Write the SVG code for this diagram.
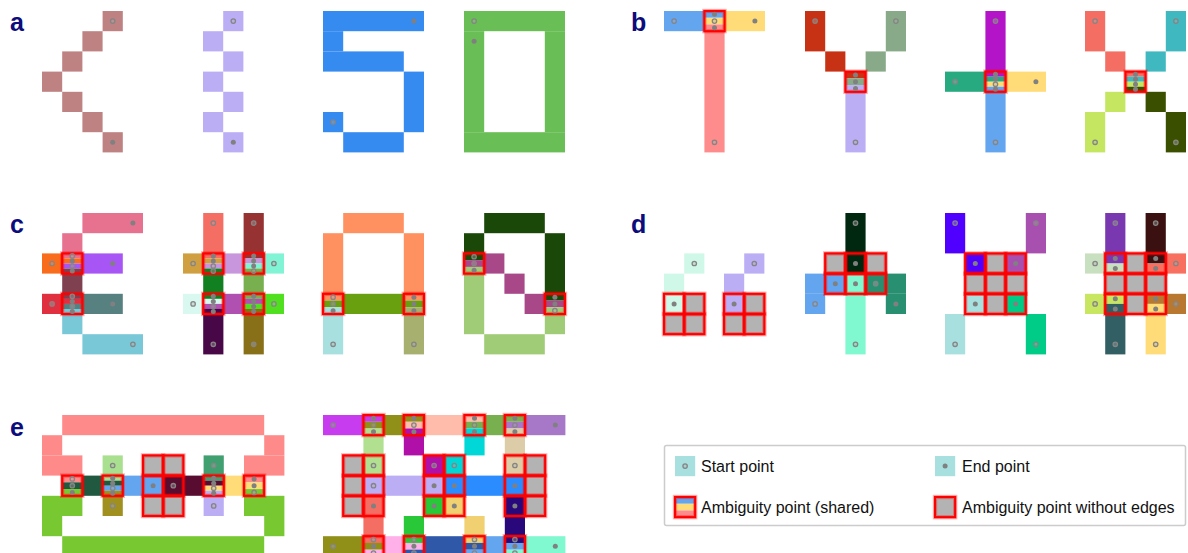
<svg xmlns="http://www.w3.org/2000/svg" xmlns:xlink="http://www.w3.org/1999/xlink" width="1188" height="553" viewBox="0 0 1188 553">
<style>
.lbl{font-family:"Liberation Sans",Arial,sans-serif;font-weight:bold;font-size:25px;fill:#0c0c7c}
.lt{font-family:"Liberation Sans",Arial,sans-serif;font-size:16px;fill:#111111}
</style>
<defs>
<circle id="h" r="2.2" fill="#b0b0b0" fill-opacity="0.35" stroke="#858585" stroke-width="1.3"/>
<circle id="f" r="2.5" fill="#808080"/>
<g id="bx"><rect width="20.2" height="20.2" fill="none" stroke="#ff0000" stroke-opacity="0.3" stroke-width="4.4"/><rect width="20.2" height="20.2" fill="none" stroke="#ff0000" stroke-width="2.2"/></g>
<rect id="g" width="20.2" height="20.2" fill="#b3b3b3"/>
</defs>
<rect width="1188" height="553" fill="#ffffff"/>

<g id="labels">
<text class="lbl" x="10" y="31">a</text>
<text class="lbl" x="631" y="31">b</text>
<text class="lbl" x="10" y="233">c</text>
<text class="lbl" x="631" y="233">d</text>
<text class="lbl" x="10" y="436">e</text>
</g>

<!-- panel a -->
<g id="a1" transform="translate(42,11)" fill="#be8282">
<rect x="60.6" y="0" width="20.2" height="20.2"/><rect x="40.4" y="20.2" width="20.2" height="20.2"/><rect x="20.2" y="40.4" width="20.2" height="20.2"/><rect x="0" y="60.6" width="20.2" height="20.2"/><rect x="20.2" y="80.8" width="20.2" height="20.2"/><rect x="40.4" y="101" width="20.2" height="20.2"/><rect x="60.6" y="121.2" width="20.2" height="20.2"/>
<use href="#h" x="70.7" y="10.1"/><use href="#f" x="70.7" y="131.3"/>
</g>
<g id="a2" transform="translate(203,11)" fill="#bcaef5">
<rect x="20.2" y="0" width="20.2" height="20.2"/><rect x="0" y="20.2" width="20.2" height="20.2"/><rect x="20.2" y="40.4" width="20.2" height="20.2"/><rect x="0" y="60.6" width="20.2" height="20.2"/><rect x="20.2" y="80.8" width="20.2" height="20.2"/><rect x="0" y="101" width="20.2" height="20.2"/><rect x="20.2" y="121.2" width="20.2" height="20.2"/>
<use href="#h" x="30.3" y="10.1"/><use href="#f" x="30.3" y="131.3"/>
</g>
<g id="a3" transform="translate(323,11)" fill="#368bf0">
<rect x="0" y="0" width="101" height="20.2"/><rect x="0" y="20.2" width="20.2" height="20.2"/><rect x="0" y="40.4" width="80.8" height="20.2"/><rect x="80.8" y="60.6" width="20.2" height="60.6"/><rect x="0" y="101" width="20.2" height="20.2"/><rect x="20.2" y="121.2" width="60.6" height="20.2"/>
<use href="#f" x="90.9" y="10.1"/><use href="#h" x="10.1" y="111.1"/>
</g>
<g id="a4" transform="translate(464,11)" fill="#69be55">
<rect x="0" y="0" width="101" height="20.2"/><rect x="0" y="121.2" width="101" height="20.2"/><rect x="0" y="20.2" width="20.2" height="101"/><rect x="80.8" y="20.2" width="20.2" height="101"/>
<use href="#h" x="10.1" y="10.1"/><use href="#f" x="10.1" y="30.3"/>
</g>

<!-- panel b -->
<g id="b1" transform="translate(664,11)">
<rect x="0" y="0" width="40.4" height="20.2" fill="#64a5f0"/><rect x="60.6" y="0" width="40.4" height="20.2" fill="#ffdc78"/><rect x="40.4" y="20.2" width="20.2" height="121.2" fill="#ff8c8c"/>
<rect x="40.4" y="0" width="20.2" height="6.8" fill="#64a5f0"/><rect x="40.4" y="6.733" width="20.2" height="6.8" fill="#ffdc78"/><rect x="40.4" y="13.467" width="20.2" height="6.733" fill="#ff8c8c"/>
<use href="#bx" x="40.4" y="0"/>
<use href="#h" x="10.1" y="10.1"/><use href="#f" x="50.5" y="3.37"/><use href="#h" x="50.5" y="10.1"/><use href="#f" x="50.5" y="16.83"/><use href="#f" x="90.9" y="10.1"/><use href="#h" x="50.5" y="131.3"/>
</g>
<g id="b2" transform="translate(805,11)">
<rect x="0" y="0" width="20.2" height="40.4" fill="#c83214"/><rect x="20.2" y="40.4" width="20.2" height="20.2" fill="#c83214"/>
<rect x="80.8" y="0" width="20.2" height="40.4" fill="#88aa88"/><rect x="60.6" y="40.4" width="20.2" height="20.2" fill="#88aa88"/>
<rect x="40.4" y="80.8" width="20.2" height="60.6" fill="#bcaef5"/>
<rect x="40.4" y="60.6" width="20.2" height="6.8" fill="#c83214"/><rect x="40.4" y="67.333" width="20.2" height="6.8" fill="#88aa88"/><rect x="40.4" y="74.067" width="20.2" height="6.8" fill="#bcaef5"/>
<use href="#bx" x="40.4" y="60.6"/>
<use href="#h" x="10.1" y="10.1"/><use href="#h" x="90.9" y="10.1"/><use href="#h" x="50.5" y="131.3"/>
<use href="#f" x="50.5" y="63.97"/><use href="#f" x="50.5" y="70.7"/><use href="#f" x="50.5" y="77.43"/>
</g>
<g id="b3" transform="translate(945,11)">
<rect x="40.4" y="0" width="20.2" height="60.6" fill="#b414c8"/><rect x="0" y="60.6" width="40.4" height="20.2" fill="#28aa80"/><rect x="60.6" y="60.6" width="40.4" height="20.2" fill="#ffdc78"/><rect x="40.4" y="80.8" width="20.2" height="60.6" fill="#64a5f0"/>
<rect x="40.4" y="60.6" width="20.2" height="5.1" fill="#b414c8"/><rect x="40.4" y="65.65" width="20.2" height="5.1" fill="#28aa80"/><rect x="40.4" y="70.7" width="20.2" height="5.1" fill="#ffdc78"/><rect x="40.4" y="75.75" width="20.2" height="5.05" fill="#64a5f0"/>
<use href="#bx" x="40.4" y="60.6"/>
<use href="#h" x="50.5" y="10.1"/><use href="#h" x="10.1" y="70.7"/><use href="#f" x="90.9" y="70.7"/><use href="#h" x="50.5" y="131.3"/>
<use href="#f" x="50.5" y="63.13"/><use href="#f" x="50.5" y="68.18"/><use href="#h" x="50.5" y="73.23"/><use href="#f" x="50.5" y="78.28"/>
</g>
<g id="b4" transform="translate(1085,11)">
<rect x="0" y="0" width="20.2" height="40.4" fill="#f46e64"/><rect x="20.2" y="40.4" width="20.2" height="20.2" fill="#f46e64"/>
<rect x="80.8" y="0" width="20.2" height="40.4" fill="#40b8c0"/><rect x="60.6" y="40.4" width="20.2" height="20.2" fill="#40b8c0"/>
<rect x="20.2" y="80.8" width="20.2" height="20.2" fill="#c4e660"/><rect x="0" y="101" width="20.2" height="40.4" fill="#c4e660"/>
<rect x="60.6" y="80.8" width="20.2" height="20.2" fill="#3a5000"/><rect x="80.8" y="101" width="20.2" height="40.4" fill="#3a5000"/>
<rect x="40.4" y="60.6" width="20.2" height="5.1" fill="#f46e64"/><rect x="40.4" y="65.65" width="20.2" height="5.1" fill="#40b8c0"/><rect x="40.4" y="70.7" width="20.2" height="5.1" fill="#c4e660"/><rect x="40.4" y="75.75" width="20.2" height="5.05" fill="#3a5000"/>
<use href="#bx" x="40.4" y="60.6"/>
<use href="#h" x="10.1" y="10.1"/><use href="#h" x="90.9" y="10.1"/><use href="#h" x="10.1" y="131.3"/><use href="#h" x="90.9" y="131.3"/>
<use href="#f" x="50.5" y="63.13"/><use href="#f" x="50.5" y="68.18"/><use href="#f" x="50.5" y="73.23"/><use href="#f" x="50.5" y="78.28"/>
</g>

<!-- panel c -->
<g id="c1" transform="translate(42,213)">
<rect x="40.4" y="0" width="60.6" height="20.2" fill="#e67290"/><rect x="20.2" y="20.2" width="20.2" height="20.2" fill="#e67290"/>
<rect x="0" y="40.4" width="20.2" height="20.2" fill="#f86c1c"/>
<rect x="40.4" y="40.4" width="40.4" height="20.2" fill="#a855f5"/>
<rect x="20.2" y="60.6" width="20.2" height="20.2" fill="#7f4050"/>
<rect x="0" y="80.8" width="20.2" height="20.2" fill="#e03040"/>
<rect x="40.4" y="80.8" width="40.4" height="20.2" fill="#578080"/>
<rect x="20.2" y="101" width="20.2" height="20.2" fill="#78c8d8"/><rect x="40.4" y="121.2" width="60.6" height="20.2" fill="#78c8d8"/>
<rect x="20.2" y="40.4" width="20.2" height="5.1" fill="#e67290"/><rect x="20.2" y="45.45" width="20.2" height="5.1" fill="#f86c1c"/><rect x="20.2" y="50.5" width="20.2" height="5.1" fill="#a855f5"/><rect x="20.2" y="55.55" width="20.2" height="5.05" fill="#7f4050"/>
<rect x="20.2" y="80.8" width="20.2" height="5.1" fill="#7f4050"/><rect x="20.2" y="85.85" width="20.2" height="5.1" fill="#e03040"/><rect x="20.2" y="90.9" width="20.2" height="5.1" fill="#578080"/><rect x="20.2" y="95.95" width="20.2" height="5.05" fill="#78c8d8"/>
<use href="#bx" x="20.2" y="40.4"/><use href="#bx" x="20.2" y="80.8"/>
<use href="#f" x="90.9" y="10.1"/><use href="#h" x="10.1" y="50.5"/><use href="#f" x="70.7" y="50.5"/><use href="#h" x="10.1" y="90.9"/><use href="#f" x="70.7" y="90.9"/><use href="#h" x="90.9" y="131.3"/>
<use href="#h" x="30.3" y="42.93"/><use href="#f" x="30.3" y="47.98"/><use href="#h" x="30.3" y="53.03"/><use href="#f" x="30.3" y="58.08"/>
<use href="#h" x="30.3" y="83.33"/><use href="#f" x="30.3" y="88.38"/><use href="#h" x="30.3" y="93.43"/><use href="#f" x="30.3" y="98.48"/>
</g>
<g id="c2" transform="translate(183,213)">
<rect x="20.2" y="0" width="20.2" height="40.4" fill="#f46e64"/>
<rect x="60.6" y="0" width="20.2" height="40.4" fill="#963232"/>
<rect x="0" y="40.4" width="20.2" height="20.2" fill="#d0a040"/>
<rect x="40.4" y="40.4" width="20.2" height="20.2" fill="#c896dc"/>
<rect x="80.8" y="40.4" width="20.2" height="20.2" fill="#80f4d4"/>
<rect x="20.2" y="60.6" width="20.2" height="20.2" fill="#108020"/>
<rect x="60.6" y="60.6" width="20.2" height="20.2" fill="#78b050"/>
<rect x="0" y="80.8" width="20.2" height="20.2" fill="#d8f8f0"/>
<rect x="40.4" y="80.8" width="20.2" height="20.2" fill="#b050b0"/>
<rect x="80.8" y="80.8" width="20.2" height="20.2" fill="#50e020"/>
<rect x="20.2" y="101" width="20.2" height="40.4" fill="#480848"/>
<rect x="60.6" y="101" width="20.2" height="40.4" fill="#887018"/>
<rect x="20.2" y="40.4" width="20.2" height="5.1" fill="#f46e64"/><rect x="20.2" y="45.45" width="20.2" height="5.1" fill="#d0a040"/><rect x="20.2" y="50.5" width="20.2" height="5.1" fill="#c896dc"/><rect x="20.2" y="55.55" width="20.2" height="5.05" fill="#108020"/>
<rect x="60.6" y="40.4" width="20.2" height="5.1" fill="#963232"/><rect x="60.6" y="45.45" width="20.2" height="5.1" fill="#c896dc"/><rect x="60.6" y="50.5" width="20.2" height="5.1" fill="#80f4d4"/><rect x="60.6" y="55.55" width="20.2" height="5.05" fill="#78b050"/>
<rect x="20.2" y="80.8" width="20.2" height="5.1" fill="#108020"/><rect x="20.2" y="85.85" width="20.2" height="5.1" fill="#d8f8f0"/><rect x="20.2" y="90.9" width="20.2" height="5.1" fill="#b050b0"/><rect x="20.2" y="95.95" width="20.2" height="5.05" fill="#480848"/>
<rect x="60.6" y="80.8" width="20.2" height="5.1" fill="#78b050"/><rect x="60.6" y="85.85" width="20.2" height="5.1" fill="#b050b0"/><rect x="60.6" y="90.9" width="20.2" height="5.1" fill="#50e020"/><rect x="60.6" y="95.95" width="20.2" height="5.05" fill="#887018"/>
<use href="#bx" x="20.2" y="40.4"/><use href="#bx" x="60.6" y="40.4"/><use href="#bx" x="20.2" y="80.8"/><use href="#bx" x="60.6" y="80.8"/>
<use href="#h" x="30.3" y="10.1"/><use href="#h" x="70.7" y="10.1"/><use href="#h" x="10.1" y="50.5"/><use href="#h" x="90.9" y="50.5"/><use href="#h" x="10.1" y="90.9"/><use href="#h" x="90.9" y="90.9"/><use href="#h" x="30.3" y="131.3"/><use href="#h" x="70.7" y="131.3"/>
<use href="#f" x="30.3" y="42.93"/><use href="#f" x="30.3" y="47.98"/><use href="#h" x="30.3" y="53.03"/><use href="#h" x="30.3" y="58.08"/>
<use href="#f" x="70.7" y="42.93"/><use href="#f" x="70.7" y="47.98"/><use href="#f" x="70.7" y="53.03"/><use href="#h" x="70.7" y="58.08"/>
<use href="#f" x="30.3" y="83.33"/><use href="#f" x="30.3" y="88.38"/><use href="#h" x="30.3" y="93.43"/><use href="#f" x="30.3" y="98.48"/>
<use href="#f" x="70.7" y="83.33"/><use href="#f" x="70.7" y="88.38"/><use href="#f" x="70.7" y="93.43"/><use href="#f" x="70.7" y="98.48"/>
</g>
<g id="c3" transform="translate(323,213)">
<rect x="20.2" y="0" width="60.6" height="20.2" fill="#ff9060"/><rect x="0" y="20.2" width="20.2" height="60.6" fill="#ff9060"/><rect x="80.8" y="20.2" width="20.2" height="60.6" fill="#ff9060"/>
<rect x="20.2" y="80.8" width="60.6" height="20.2" fill="#68a010"/>
<rect x="0" y="101" width="20.2" height="40.4" fill="#a8e0e0"/>
<rect x="80.8" y="101" width="20.2" height="40.4" fill="#a8b070"/>
<rect x="0" y="80.8" width="20.2" height="6.8" fill="#ff9060"/><rect x="0" y="87.533" width="20.2" height="6.8" fill="#68a010"/><rect x="0" y="94.267" width="20.2" height="6.733" fill="#a8e0e0"/>
<rect x="80.8" y="80.8" width="20.2" height="6.8" fill="#ff9060"/><rect x="80.8" y="87.533" width="20.2" height="6.8" fill="#68a010"/><rect x="80.8" y="94.267" width="20.2" height="6.733" fill="#a8b070"/>
<use href="#bx" x="0" y="80.8"/><use href="#bx" x="80.8" y="80.8"/>
<use href="#h" x="10.1" y="131.3"/><use href="#h" x="90.9" y="131.3"/>
<use href="#h" x="10.1" y="84.17"/><use href="#h" x="10.1" y="90.9"/><use href="#f" x="10.1" y="97.63"/>
<use href="#f" x="90.9" y="84.17"/><use href="#f" x="90.9" y="90.9"/><use href="#f" x="90.9" y="97.63"/>
</g>
<g id="c4" transform="translate(464,213)">
<rect x="20.2" y="0" width="60.6" height="20.2" fill="#1a4808"/><rect x="0" y="20.2" width="20.2" height="20.2" fill="#1a4808"/><rect x="80.8" y="20.2" width="20.2" height="60.6" fill="#1a4808"/>
<rect x="20.2" y="40.4" width="20.2" height="20.2" fill="#a84888"/><rect x="40.4" y="60.6" width="20.2" height="20.2" fill="#a84888"/><rect x="60.6" y="80.8" width="20.2" height="20.2" fill="#a84888"/>
<rect x="0" y="60.6" width="20.2" height="60.6" fill="#a0cc78"/><rect x="80.8" y="101" width="20.2" height="20.2" fill="#a0cc78"/><rect x="20.2" y="121.2" width="60.6" height="20.2" fill="#a0cc78"/>
<rect x="0" y="40.4" width="20.2" height="6.8" fill="#1a4808"/><rect x="0" y="47.133" width="20.2" height="6.8" fill="#a84888"/><rect x="0" y="53.867" width="20.2" height="6.733" fill="#a0cc78"/>
<rect x="80.8" y="80.8" width="20.2" height="6.8" fill="#1a4808"/><rect x="80.8" y="87.533" width="20.2" height="6.8" fill="#a84888"/><rect x="80.8" y="94.267" width="20.2" height="6.733" fill="#a0cc78"/>
<use href="#bx" x="0" y="40.4"/><use href="#bx" x="80.8" y="80.8"/>
<use href="#h" x="10.1" y="43.77"/><use href="#h" x="10.1" y="50.5"/><use href="#f" x="10.1" y="57.23"/>
<use href="#f" x="90.9" y="84.17"/><use href="#f" x="90.9" y="90.9"/><use href="#h" x="90.9" y="97.63"/>
</g>

<!-- panel d -->
<g id="d1" transform="translate(664,213)">
<rect x="20.2" y="40.4" width="20.2" height="20.2" fill="#d0f8e8"/><rect x="0" y="60.6" width="20.2" height="40.4" fill="#d0f8e8"/>
<use href="#g" x="20.2" y="80.8"/><use href="#g" x="0" y="101"/><use href="#g" x="20.2" y="101"/>
<use href="#bx" x="0" y="80.8"/><use href="#bx" x="20.2" y="80.8"/><use href="#bx" x="0" y="101"/><use href="#bx" x="20.2" y="101"/>
<use href="#h" x="30.3" y="50.5"/><use href="#f" x="10.1" y="90.9"/>
</g>
<g id="d2" transform="translate(724,213)">
<rect x="20.2" y="40.4" width="20.2" height="20.2" fill="#bcaef5"/><rect x="0" y="60.6" width="20.2" height="40.4" fill="#bcaef5"/>
<use href="#g" x="20.2" y="80.8"/><use href="#g" x="0" y="101"/><use href="#g" x="20.2" y="101"/>
<use href="#bx" x="0" y="80.8"/><use href="#bx" x="20.2" y="80.8"/><use href="#bx" x="0" y="101"/><use href="#bx" x="20.2" y="101"/>
<use href="#h" x="30.3" y="50.5"/><use href="#f" x="10.1" y="90.9"/>
</g>
<g id="d3" transform="translate(805,213)">
<rect x="40.4" y="0" width="20.2" height="60.6" fill="#002810"/>
<rect x="0" y="60.6" width="40.4" height="20.2" fill="#64a5f0"/><rect x="0" y="80.8" width="20.2" height="20.2" fill="#64a5f0"/>
<rect x="40.4" y="60.6" width="20.2" height="80.8" fill="#80f8d0"/>
<rect x="60.6" y="60.6" width="40.4" height="20.2" fill="#289070"/><rect x="80.8" y="80.8" width="20.2" height="20.2" fill="#289070"/>
<use href="#g" x="20.2" y="40.4"/><use href="#g" x="60.6" y="40.4"/>
<use href="#bx" x="20.2" y="40.4"/><use href="#bx" x="40.4" y="40.4"/><use href="#bx" x="60.6" y="40.4"/><use href="#bx" x="20.2" y="60.6"/><use href="#bx" x="40.4" y="60.6"/><use href="#bx" x="60.6" y="60.6"/>
<use href="#h" x="50.5" y="10.1"/><use href="#f" x="50.5" y="50.5"/><use href="#f" x="30.3" y="70.7"/><use href="#f" x="50.5" y="70.7"/><use href="#h" x="70.7" y="70.7"/><use href="#h" x="10.1" y="90.9"/><use href="#f" x="90.9" y="90.9"/><use href="#h" x="50.5" y="131.3"/>
</g>
<g id="d4" transform="translate(945,213)">
<rect x="0" y="0" width="20.2" height="40.4" fill="#5000ff"/><rect x="20.2" y="40.4" width="20.2" height="20.2" fill="#5000ff"/>
<rect x="80.8" y="0" width="20.2" height="40.4" fill="#a850b0"/><rect x="60.6" y="40.4" width="20.2" height="20.2" fill="#a850b0"/>
<use href="#g" x="40.4" y="40.4"/><use href="#g" x="20.2" y="60.6"/><use href="#g" x="40.4" y="60.6"/><use href="#g" x="60.6" y="60.6"/><use href="#g" x="40.4" y="80.8"/>
<rect x="20.2" y="80.8" width="20.2" height="20.2" fill="#a8e0e0"/><rect x="0" y="101" width="20.2" height="40.4" fill="#a8e0e0"/>
<rect x="60.6" y="80.8" width="20.2" height="20.2" fill="#00cc88"/><rect x="80.8" y="101" width="20.2" height="40.4" fill="#00cc88"/>
<use href="#bx" x="20.2" y="40.4"/><use href="#bx" x="40.4" y="40.4"/><use href="#bx" x="60.6" y="40.4"/><use href="#bx" x="20.2" y="60.6"/><use href="#bx" x="40.4" y="60.6"/><use href="#bx" x="60.6" y="60.6"/><use href="#bx" x="20.2" y="80.8"/><use href="#bx" x="40.4" y="80.8"/><use href="#bx" x="60.6" y="80.8"/>
<use href="#h" x="10.1" y="10.1"/><use href="#h" x="90.9" y="10.1"/><use href="#h" x="10.1" y="131.3"/><use href="#h" x="90.9" y="131.3"/>
<use href="#f" x="30.3" y="50.5"/><use href="#f" x="70.7" y="50.5"/><use href="#f" x="30.3" y="90.9"/><use href="#f" x="70.7" y="90.9"/>
</g>
<g id="d5" transform="translate(1085,213)">
<rect x="20.2" y="0" width="20.2" height="50.5" fill="#7a38b0"/>
<rect x="60.6" y="0" width="20.2" height="50.5" fill="#3a1010"/>
<rect x="0" y="40.4" width="20.2" height="20.2" fill="#c8e0c0"/><rect x="20.2" y="50.5" width="20.2" height="10.1" fill="#c8e0c0"/>
<rect x="80.8" y="40.4" width="20.2" height="20.2" fill="#f87060"/><rect x="60.6" y="50.5" width="20.2" height="10.1" fill="#f87060"/>
<use href="#g" x="40.4" y="40.4"/><use href="#g" x="20.2" y="60.6"/><use href="#g" x="40.4" y="60.6"/><use href="#g" x="60.6" y="60.6"/><use href="#g" x="40.4" y="80.8"/>
<rect x="0" y="80.8" width="20.2" height="20.2" fill="#c8e660"/><rect x="20.2" y="80.8" width="20.2" height="10.1" fill="#c8e660"/>
<rect x="20.2" y="90.9" width="20.2" height="50.5" fill="#325f64"/>
<rect x="80.8" y="80.8" width="20.2" height="20.2" fill="#b87830"/><rect x="60.6" y="80.8" width="20.2" height="10.1" fill="#b87830"/>
<rect x="60.6" y="90.9" width="20.2" height="50.5" fill="#ffdc78"/>
<use href="#bx" x="20.2" y="40.4"/><use href="#bx" x="40.4" y="40.4"/><use href="#bx" x="60.6" y="40.4"/><use href="#bx" x="20.2" y="60.6"/><use href="#bx" x="40.4" y="60.6"/><use href="#bx" x="60.6" y="60.6"/><use href="#bx" x="20.2" y="80.8"/><use href="#bx" x="40.4" y="80.8"/><use href="#bx" x="60.6" y="80.8"/>
<use href="#h" x="30.3" y="10.1"/><use href="#h" x="70.7" y="10.1"/><use href="#h" x="10.1" y="50.5"/><use href="#h" x="90.9" y="50.5"/><use href="#h" x="10.1" y="90.9"/><use href="#h" x="90.9" y="90.9"/><use href="#h" x="30.3" y="131.3"/><use href="#h" x="70.7" y="131.3"/>
<use href="#f" x="30.3" y="45.45"/><use href="#f" x="30.3" y="55.55"/><use href="#f" x="70.7" y="45.45"/><use href="#f" x="70.7" y="55.55"/><use href="#f" x="30.3" y="85.85"/><use href="#f" x="30.3" y="95.95"/><use href="#f" x="70.7" y="85.85"/><use href="#f" x="70.7" y="95.95"/>
</g>

<!-- panel e -->
<g id="e1" transform="translate(42,415)">
<g fill="#ff8a8a"><rect x="20.2" y="0" width="202" height="20.2"/><rect x="0" y="20.2" width="20.2" height="20.2"/><rect x="222.2" y="20.2" width="20.2" height="20.2"/><rect x="0" y="40.4" width="40.4" height="20.2"/><rect x="202" y="40.4" width="40.4" height="20.2"/></g>
<g fill="#78c832"><rect x="0" y="80.8" width="40.4" height="20.2"/><rect x="202" y="80.8" width="40.4" height="20.2"/><rect x="0" y="101" width="20.2" height="20.2"/><rect x="222.2" y="101" width="20.2" height="20.2"/><rect x="20.2" y="121.2" width="202" height="20.2"/></g>
<rect x="40.4" y="60.6" width="20.2" height="20.2" fill="#205840"/>
<rect x="60.6" y="40.4" width="20.2" height="20.2" fill="#a8e090"/>
<rect x="60.6" y="80.8" width="20.2" height="20.2" fill="#a09020"/>
<rect x="80.8" y="60.6" width="40.4" height="20.2" fill="#64a5f0"/>
<rect x="121.2" y="60.6" width="40.4" height="20.2" fill="#580c30"/>
<use href="#g" x="101" y="40.4"/><use href="#g" x="121.2" y="40.4"/><use href="#g" x="101" y="80.8"/><use href="#g" x="121.2" y="80.8"/>
<rect x="161.6" y="40.4" width="20.2" height="20.2" fill="#40a070"/>
<rect x="161.6" y="80.8" width="20.2" height="20.2" fill="#bcaef5"/>
<rect x="181.8" y="60.6" width="20.2" height="20.2" fill="#ffdc78"/>
<rect x="20.2" y="60.6" width="20.2" height="6.8" fill="#ff8a8a"/><rect x="20.2" y="67.333" width="20.2" height="6.8" fill="#205840"/><rect x="20.2" y="74.067" width="20.2" height="6.733" fill="#78c832"/>
<rect x="60.6" y="60.6" width="20.2" height="5.1" fill="#a8e090"/><rect x="60.6" y="65.65" width="20.2" height="5.1" fill="#205840"/><rect x="60.6" y="70.7" width="20.2" height="5.1" fill="#64a5f0"/><rect x="60.6" y="75.75" width="20.2" height="5.05" fill="#a09020"/>
<rect x="161.6" y="60.6" width="20.2" height="5.1" fill="#40a070"/><rect x="161.6" y="65.65" width="20.2" height="5.1" fill="#580c30"/><rect x="161.6" y="70.7" width="20.2" height="5.1" fill="#ffdc78"/><rect x="161.6" y="75.75" width="20.2" height="5.05" fill="#bcaef5"/>
<rect x="202" y="60.6" width="20.2" height="6.8" fill="#ff8a8a"/><rect x="202" y="67.333" width="20.2" height="6.8" fill="#ffdc78"/><rect x="202" y="74.067" width="20.2" height="6.733" fill="#78c832"/>
<use href="#bx" x="20.2" y="60.6"/><use href="#bx" x="60.6" y="60.6"/><use href="#bx" x="101" y="40.4"/><use href="#bx" x="121.2" y="40.4"/><use href="#bx" x="101" y="60.6"/><use href="#bx" x="121.2" y="60.6"/><use href="#bx" x="101" y="80.8"/><use href="#bx" x="121.2" y="80.8"/><use href="#bx" x="161.6" y="60.6"/><use href="#bx" x="202" y="60.6"/>
<use href="#h" x="30.3" y="63.97"/><use href="#h" x="30.3" y="70.7"/><use href="#f" x="30.3" y="77.43"/>
<use href="#f" x="70.7" y="63.13"/><use href="#f" x="70.7" y="68.18"/><use href="#h" x="70.7" y="73.23"/><use href="#f" x="70.7" y="78.28"/>
<use href="#h" x="70.7" y="50.5"/><use href="#h" x="70.7" y="90.9"/><use href="#f" x="111.1" y="70.7"/><use href="#h" x="131.3" y="70.7"/><use href="#h" x="171.7" y="50.5"/><use href="#h" x="171.7" y="90.9"/>
<use href="#f" x="171.7" y="63.13"/><use href="#f" x="171.7" y="68.18"/><use href="#h" x="171.7" y="73.23"/><use href="#f" x="171.7" y="78.28"/>
<use href="#f" x="212.1" y="63.97"/><use href="#f" x="212.1" y="70.7"/><use href="#h" x="212.1" y="77.43"/>
</g>
<g id="e2" transform="translate(323,415)">
<rect x="0" y="0" width="40.4" height="20.2" fill="#c83cf0"/>
<rect x="60.6" y="0" width="20.2" height="20.2" fill="#909018"/>
<rect x="101" y="0" width="40.4" height="20.2" fill="#ffbcaa"/>
<rect x="161.6" y="0" width="20.2" height="20.2" fill="#78b050"/>
<rect x="202" y="0" width="40.4" height="20.2" fill="#a878c8"/>
<rect x="40.4" y="0" width="20.2" height="6.8" fill="#c83cf0"/><rect x="40.4" y="6.733" width="20.2" height="6.8" fill="#909018"/><rect x="40.4" y="13.467" width="20.2" height="6.733" fill="#b0e090"/>
<rect x="80.8" y="0" width="20.2" height="6.8" fill="#909018"/><rect x="80.8" y="6.733" width="20.2" height="6.8" fill="#ffbcaa"/><rect x="80.8" y="13.467" width="20.2" height="6.733" fill="#b010a8"/>
<rect x="141.4" y="0" width="20.2" height="6.8" fill="#ffbcaa"/><rect x="141.4" y="6.733" width="20.2" height="6.8" fill="#78b050"/><rect x="141.4" y="13.467" width="20.2" height="6.733" fill="#00d8d8"/>
<rect x="181.8" y="0" width="20.2" height="6.8" fill="#78b050"/><rect x="181.8" y="6.733" width="20.2" height="6.8" fill="#a878c8"/><rect x="181.8" y="13.467" width="20.2" height="6.733" fill="#dccca8"/>
<rect x="40.4" y="20.2" width="20.2" height="40.4" fill="#b0e090"/>
<rect x="80.8" y="20.2" width="20.2" height="20.2" fill="#b010a8"/><rect x="101" y="40.4" width="20.2" height="20.2" fill="#b010a8"/>
<rect x="141.4" y="20.2" width="20.2" height="20.2" fill="#00d8d8"/><rect x="121.2" y="40.4" width="20.2" height="20.2" fill="#00d8d8"/>
<rect x="181.8" y="20.2" width="20.2" height="40.4" fill="#dccca8"/>
<use href="#g" x="20.2" y="40.4"/><use href="#g" x="202" y="40.4"/><use href="#g" x="20.2" y="60.6"/><use href="#g" x="202" y="60.6"/><use href="#g" x="20.2" y="80.8"/><use href="#g" x="202" y="80.8"/>
<rect x="40.4" y="60.6" width="80.8" height="20.2" fill="#bcaef5"/>
<rect x="121.2" y="60.6" width="80.8" height="20.2" fill="#2a8cff"/>
<rect x="40.4" y="80.8" width="20.2" height="40.4" fill="#f46e64"/>
<rect x="101" y="80.8" width="20.2" height="20.2" fill="#28c838"/><rect x="80.8" y="101" width="20.2" height="20.2" fill="#28c838"/>
<rect x="121.2" y="80.8" width="20.2" height="20.2" fill="#f0d070"/><rect x="141.4" y="101" width="20.2" height="20.2" fill="#f0d070"/>
<rect x="181.8" y="80.8" width="20.2" height="40.4" fill="#28087a"/>
<rect x="0" y="121.2" width="40.4" height="20.2" fill="#909018"/>
<rect x="60.6" y="121.2" width="20.2" height="20.2" fill="#ffb0e8"/>
<rect x="101" y="121.2" width="40.4" height="20.2" fill="#3058a8"/>
<rect x="161.6" y="121.2" width="20.2" height="20.2" fill="#64a5f0"/>
<rect x="202" y="121.2" width="40.4" height="20.2" fill="#80f8d0"/>
<rect x="40.4" y="121.2" width="20.2" height="6.8" fill="#f46e64"/><rect x="40.4" y="127.933" width="20.2" height="6.8" fill="#909018"/><rect x="40.4" y="134.667" width="20.2" height="6.733" fill="#ffb0e8"/>
<rect x="80.8" y="121.2" width="20.2" height="6.8" fill="#28c838"/><rect x="80.8" y="127.933" width="20.2" height="6.8" fill="#ffb0e8"/><rect x="80.8" y="134.667" width="20.2" height="6.733" fill="#3058a8"/>
<rect x="141.4" y="121.2" width="20.2" height="6.8" fill="#f0d070"/><rect x="141.4" y="127.933" width="20.2" height="6.8" fill="#3058a8"/><rect x="141.4" y="134.667" width="20.2" height="6.733" fill="#64a5f0"/>
<rect x="181.8" y="121.2" width="20.2" height="6.8" fill="#28087a"/><rect x="181.8" y="127.933" width="20.2" height="6.8" fill="#64a5f0"/><rect x="181.8" y="134.667" width="20.2" height="6.733" fill="#80f8d0"/>
<use href="#bx" x="40.4" y="0"/><use href="#bx" x="80.8" y="0"/><use href="#bx" x="141.4" y="0"/><use href="#bx" x="181.8" y="0"/>
<use href="#bx" x="20.2" y="40.4"/><use href="#bx" x="40.4" y="40.4"/><use href="#bx" x="101" y="40.4"/><use href="#bx" x="121.2" y="40.4"/><use href="#bx" x="181.8" y="40.4"/><use href="#bx" x="202" y="40.4"/>
<use href="#bx" x="20.2" y="60.6"/><use href="#bx" x="40.4" y="60.6"/><use href="#bx" x="101" y="60.6"/><use href="#bx" x="121.2" y="60.6"/><use href="#bx" x="181.8" y="60.6"/><use href="#bx" x="202" y="60.6"/>
<use href="#bx" x="20.2" y="80.8"/><use href="#bx" x="40.4" y="80.8"/><use href="#bx" x="101" y="80.8"/><use href="#bx" x="121.2" y="80.8"/><use href="#bx" x="181.8" y="80.8"/><use href="#bx" x="202" y="80.8"/>
<use href="#bx" x="40.4" y="121.2"/><use href="#bx" x="80.8" y="121.2"/><use href="#bx" x="141.4" y="121.2"/><use href="#bx" x="181.8" y="121.2"/>
<use href="#h" x="10.1" y="10.1"/><use href="#f" x="232.3" y="10.1"/>
<use href="#f" x="50.5" y="3.37"/><use href="#h" x="50.5" y="10.1"/><use href="#f" x="50.5" y="16.83"/>
<use href="#f" x="90.9" y="3.37"/><use href="#h" x="90.9" y="10.1"/><use href="#f" x="90.9" y="16.83"/>
<use href="#f" x="151.5" y="3.37"/><use href="#h" x="151.5" y="10.1"/><use href="#f" x="151.5" y="16.83"/>
<use href="#f" x="191.9" y="3.37"/><use href="#h" x="191.9" y="10.1"/><use href="#f" x="191.9" y="16.83"/>
<use href="#h" x="50.5" y="50.5"/><use href="#h" x="111.1" y="50.5"/><use href="#h" x="131.3" y="50.5"/><use href="#h" x="191.9" y="50.5"/>
<use href="#h" x="50.5" y="70.7"/><use href="#f" x="111.1" y="70.7"/><use href="#f" x="131.3" y="70.7"/><use href="#f" x="191.9" y="70.7"/>
<use href="#f" x="50.5" y="90.9"/><use href="#f" x="111.1" y="90.9"/><use href="#f" x="131.3" y="90.9"/><use href="#f" x="191.9" y="90.9"/>
<use href="#h" x="10.1" y="131.3"/><use href="#f" x="232.3" y="131.3"/>
<use href="#h" x="50.5" y="124.57"/><use href="#f" x="50.5" y="131.3"/><use href="#h" x="50.5" y="138.03"/>
<use href="#h" x="90.9" y="124.57"/><use href="#f" x="90.9" y="131.3"/><use href="#h" x="90.9" y="138.03"/>
<use href="#h" x="151.5" y="124.57"/><use href="#f" x="151.5" y="131.3"/><use href="#h" x="151.5" y="138.03"/>
<use href="#h" x="191.9" y="124.57"/><use href="#f" x="191.9" y="131.3"/><use href="#h" x="191.9" y="138.03"/>
</g>

<!-- legend -->
<g id="legend">
<rect x="664.5" y="445.5" width="521" height="80" rx="2" fill="#ffffff" stroke="#cccccc" stroke-width="1.5"/>
<rect x="675" y="456" width="20.2" height="20.2" fill="#a8e0e0"/><use href="#h" x="685.1" y="466.1"/>
<text class="lt" x="701" y="471.5">Start point</text>
<rect x="935" y="456" width="20.2" height="20.2" fill="#a8e0e0"/><use href="#f" x="945.1" y="466.1"/>
<text class="lt" x="962" y="471.5">End point</text>
<rect x="675" y="497" width="20.2" height="6.8" fill="#64a5f0"/><rect x="675" y="503.733" width="20.2" height="6.8" fill="#ffdc78"/><rect x="675" y="510.467" width="20.2" height="6.733" fill="#ff8c8c"/>
<use href="#bx" x="675" y="497"/>
<text class="lt" x="701" y="512.5">Ambiguity point (shared)</text>
<use href="#g" x="935" y="497"/><use href="#bx" x="935" y="497"/>
<text class="lt" x="962" y="512.5">Ambiguity point without edges</text>
</g>
</svg>
